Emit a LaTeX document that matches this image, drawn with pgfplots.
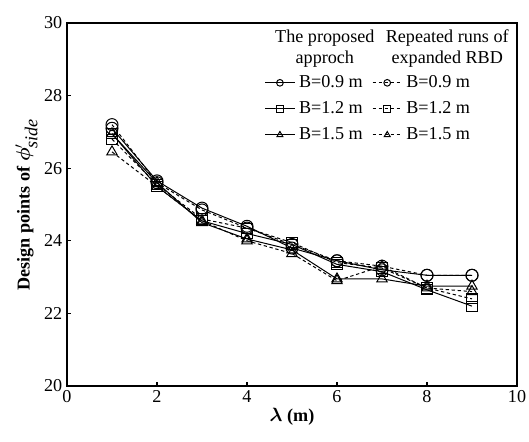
\documentclass[border=0pt]{standalone}
\usepackage{fontspec}
\setmainfont{Liberation Serif}
\usepackage{bm}
\usepackage{pgfplots}
\pgfplotsset{compat=1.18}

\begin{document}
\begin{tikzpicture}[font=\fontsize{13.6}{16}\selectfont]
\begin{axis}[
  scale only axis,
  width=337.5pt, height=272.25pt,
  xmin=0, xmax=10, ymin=20, ymax=30,
  xtick={0,2,...,10}, ytick={20,22,...,30},
  tick align=inside,
  xtick pos=bottom, ytick pos=left,
  major tick length=3pt,
  axis line style={line width=1.4pt},
  tick style={black, line width=0.8pt},
  /pgf/number format/assume math mode=true,
  xlabel={\textbf{$\bm{\lambda}$ (m)}},
  ylabel={\textbf{Design points of} $\bm{\phi}'_{\textit{side}}$},
  xlabel style={yshift=3pt},
  ylabel style={yshift=-2pt},
  every axis plot/.append style={black, line width=0.75pt},
  legend columns=2,
  legend style={at={(0.43,0.87)}, anchor=north west, draw=none, fill=none,
    row sep=5pt, font=\fontsize{13.6}{16}\selectfont,
    /tikz/every odd column/.append style={column sep=1pt},
    /tikz/every even column/.append style={column sep=5pt}},
  legend cell align=left,
  legend image post style={mark size=2.5pt},
  legend image code/.code={
    \draw[mark repeat=2, mark phase=2, #1] plot coordinates {(0pt,0pt) (11pt,0pt) (22pt,0pt)};},
]
\addplot[solid, mark=o, mark size=4.5pt, mark options={solid}]
  coordinates {(1,27.1)(2,25.65)(3,24.9)(4,24.4)(5,23.8)(6,23.45)(7,23.2)(8,23.05)(9,23.05)};
\addlegendentry{B=0.9 m}
\addplot[dash pattern=on 2.5pt off 2pt, mark=o, mark size=4.5pt, mark options={solid}]
  coordinates {(1,27.2)(2,25.6)(3,24.85)(4,24.35)(5,23.9)(6,23.45)(7,23.3)(8,23.05)(9,23.05)};
\addlegendentry{B=0.9 m}
\addplot[solid, mark=square, mark size=3.8pt, mark options={solid}]
  coordinates {(1,26.95)(2,25.5)(3,24.55)(4,24.2)(5,23.9)(6,23.35)(7,23.15)(8,22.65)(9,22.2)};
\addlegendentry{B=1.2 m}
\addplot[dash pattern=on 2.5pt off 2pt, mark=square, mark size=3.8pt, mark options={solid}]
  coordinates {(1,26.8)(2,25.55)(3,24.6)(4,24.35)(5,23.95)(6,23.4)(7,23.25)(8,22.7)(9,22.4)};
\addlegendentry{B=1.2 m}
\addplot[solid, mark=triangle, mark size=4.5pt, mark options={solid}]
  coordinates {(1,26.95)(2,25.6)(3,24.5)(4,24.05)(5,23.75)(6,22.95)(7,22.95)(8,22.75)(9,22.75)};
\addlegendentry{B=1.5 m}
\addplot[dash pattern=on 2.5pt off 2pt, mark=triangle, mark size=4.5pt, mark options={solid}]
  coordinates {(1,26.45)(2,25.5)(3,24.55)(4,24.0)(5,23.65)(6,22.9)(7,23.3)(8,22.7)(9,22.6)};
\addlegendentry{B=1.5 m}
\node[align=center, anchor=north] at (rel axis cs:0.573,0.995) {The proposed\\approch};
\node[align=center, anchor=north] at (rel axis cs:0.845,0.995) {Repeated runs of\\expanded RBD};
\coordinate (sw) at (rel axis cs:0,0);
\coordinate (ne) at (rel axis cs:1,1);
\end{axis}
\pgfresetboundingbox
\path (sw) ++(-50.25pt,-42pt) rectangle ([shift={(9pt,17.25pt)}]ne);
\end{tikzpicture}
\end{document}
